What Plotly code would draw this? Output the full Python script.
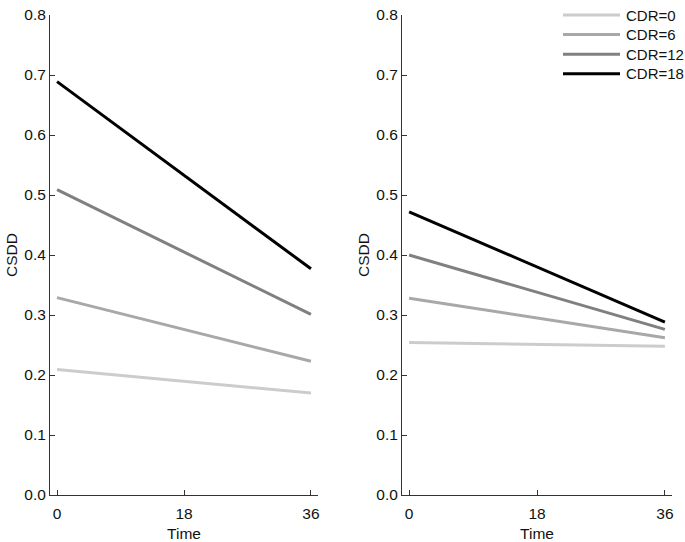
import plotly.graph_objects as go
from plotly.subplots import make_subplots

time = [0, 36]
groups = ["CDR=0", "CDR=6", "CDR=12", "CDR=18"]
left_start = [0.209, 0.329, 0.509, 0.689]
left_end = [0.170, 0.223, 0.301, 0.377]
right_start = [0.254, 0.328, 0.400, 0.472]
right_end = [0.248, 0.262, 0.276, 0.288]
colors = ["#cccccc", "#a8a8a8", "#808080", "#000000"]

W, H = 685, 542
ML, MT = 50, 15
PR, PB = 672, 495          # right edge / bottom of plotting area (px)
MR, MB = W - PR, H - PB
PW, PH = W - ML - MR, H - MT - MB

fig = make_subplots(rows=1, cols=2, horizontal_spacing=0.135)

for i, g in enumerate(groups):
    fig.add_trace(go.Scatter(x=time, y=[left_start[i], left_end[i]], mode="lines",
                             line=dict(color=colors[i], width=3), name=g, showlegend=False),
                  row=1, col=1)
for i, g in enumerate(groups):
    fig.add_trace(go.Scatter(x=time, y=[right_start[i], right_end[i]], mode="lines",
                             line=dict(color=colors[i], width=3), name=g, showlegend=False),
                  row=1, col=2)

txt = "#111111"
axis_common = dict(showgrid=False, zeroline=False, showline=True, linecolor="#333333",
                   linewidth=1, ticks="inside", ticklen=5, tickcolor="#333333",
                   tickfont=dict(size=15.5, color=txt), automargin=False,
                   ticklabeloverflow="allow")

for c in (1, 2):
    fig.update_xaxes(range=[-1, 37], tickvals=[0, 18, 36], ticklabelstandoff=4,
                     title=dict(text="Time", standoff=10, font=dict(size=15.5, color=txt)),
                     row=1, col=c, **axis_common)
    fig.update_yaxes(range=[0, 0.8], tickvals=[0, 0.1, 0.2, 0.3, 0.4, 0.5, 0.6, 0.7, 0.8],
                     tickformat=".1f", title=dict(text="CSDD", standoff=2,
                     font=dict(size=15.5, color=txt)), row=1, col=c, **axis_common)

fig.update_xaxes(domain=[0, 268 / PW], row=1, col=1)
fig.update_xaxes(domain=[352 / PW, 1.0], row=1, col=2)

# manual legend (line samples + labels) in the top-right corner
shapes = []
annotations = []
for i, g in enumerate(groups):
    ypx = 15 + 19.6 * i
    yp = (PB - ypx) / PH
    shapes.append(dict(type="line", xref="paper", yref="paper",
                       x0=(563 - ML) / PW, x1=(620 - ML) / PW, y0=yp, y1=yp,
                       line=dict(color=colors[i], width=3)))
    annotations.append(dict(xref="paper", yref="paper", x=(624 - ML) / PW, y=yp,
                            xanchor="left", yanchor="middle", text=g, showarrow=False,
                            font=dict(size=15, color=txt)))

fig.update_layout(
    width=W, height=H,
    margin=dict(l=ML, r=MR, t=MT, b=MB),
    plot_bgcolor="white", paper_bgcolor="white",
    font=dict(family="Liberation Sans, Arial, sans-serif", size=15.5, color=txt),
    showlegend=False,
    shapes=shapes, annotations=annotations,
)

fig.write_html("out.html", config={"displayModeBar": False},
               post_script="document.body.style.margin='0';")
